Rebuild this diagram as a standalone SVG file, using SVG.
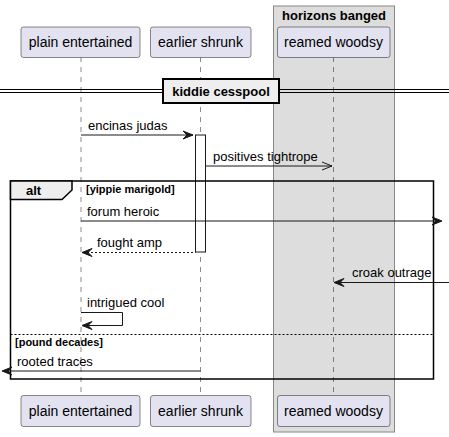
<svg xmlns="http://www.w3.org/2000/svg" width="449" height="437" viewBox="0 0 449 437">
<defs>
<style>
text{font-family:"Liberation Sans",Arial,sans-serif;fill:#000}
.pt{font-size:14px}
.msg{font-size:13px}
.b{font-weight:bold;font-size:13px}
.part{fill:#E2E2F0;stroke:#181818;stroke-width:0.5}
.life{stroke:#181818;stroke-width:0.5;stroke-dasharray:5,5;fill:none}
.ln{stroke:#181818;stroke-width:1;fill:none}
.dash{stroke:#181818;stroke-width:1;stroke-dasharray:2,2;fill:none}
.ah{fill:#181818;stroke:#181818;stroke-width:1}
</style>
</defs>
<rect width="449" height="437" fill="#fff"/>
<g id="box-horizons">
<rect x="273.5" y="6" width="121" height="426" fill="#DDDDDD" stroke="#888888" stroke-width="1"/>
<text class="b" x="334" y="19.5" text-anchor="middle">horizons banged</text>
</g>
<g id="lifelines">
<line class="life" x1="81" y1="57" x2="81" y2="395"/>
<line class="life" x1="200.5" y1="57" x2="200.5" y2="395"/>
<line class="life" x1="333.5" y1="57" x2="333.5" y2="395"/>
</g>
<g id="p-plain">
<rect class="part" x="21" y="27" width="119" height="30.5" rx="2.5"/>
<text class="pt" x="80.5" y="47" text-anchor="middle">plain entertained</text>
<rect class="part" x="21" y="395.5" width="119" height="31" rx="2.5"/>
<text class="pt" x="80.5" y="416" text-anchor="middle">plain entertained</text>
</g>
<g id="p-earlier">
<rect class="part" x="150.5" y="27" width="100.5" height="30.5" rx="2.5"/>
<text class="pt" x="200.5" y="47" text-anchor="middle">earlier shrunk</text>
<rect class="part" x="150.5" y="395.5" width="100.5" height="31" rx="2.5"/>
<text class="pt" x="200.5" y="416" text-anchor="middle">earlier shrunk</text>
</g>
<g id="p-reamed">
<rect class="part" x="277.5" y="27" width="112.5" height="30.5" rx="2.5"/>
<text class="pt" x="333.5" y="47" text-anchor="middle">reamed woodsy</text>
<rect class="part" x="277.5" y="395.5" width="112.5" height="31" rx="2.5"/>
<text class="pt" x="333.5" y="416" text-anchor="middle">reamed woodsy</text>
</g>
<g id="divider">
<line x1="0" y1="89.5" x2="449" y2="89.5" stroke="#000" stroke-width="1"/>
<line x1="0" y1="92.5" x2="449" y2="92.5" stroke="#000" stroke-width="1"/>
<rect x="163" y="79" width="116" height="24" fill="#EEEEEE" stroke="#000" stroke-width="2"/>
<text class="b" x="221" y="96" text-anchor="middle">kiddie cesspool</text>
</g>
<g id="activation">
<rect x="195.5" y="135" width="10" height="117" fill="#fff" stroke="#181818" stroke-width="1"/>
</g>
<g id="alt-frame">
<rect x="10.5" y="181" width="423" height="198" fill="none" stroke="#000" stroke-width="1.5"/>
<path d="M10.5,181 H72 V190 L62,199.5 H10.5 Z" fill="#EEEEEE" stroke="#000" stroke-width="1.5"/>
<text class="b" x="26" y="195">alt</text>
<text class="b" x="86" y="193" style="font-size:11px">[yippie marigold]</text>
<line x1="10.5" y1="334.5" x2="433" y2="334.5" stroke="#000" stroke-width="1" stroke-dasharray="2,2"/>
<text class="b" x="15" y="346" style="font-size:11px">[pound decades]</text>
</g>
<g id="connectors">
<line class="ln" x1="81" y1="135" x2="193" y2="135"/>
<polygon class="ah" points="183,131 193,135 183,139 187,135"/>
<text class="msg" x="88" y="130">encinas judas</text>
<line class="ln" x1="205.5" y1="166" x2="332" y2="166"/>
<polyline class="ln" points="322,162 332,166 322,170"/>
<text class="msg" x="213" y="161">positives tightrope</text>
<line class="ln" x1="81" y1="221" x2="440" y2="221"/>
<polygon class="ah" points="432,217 442,221 432,225 436,221"/>
<text class="msg" x="87" y="216">forum heroic</text>
<line class="dash" x1="83" y1="252.5" x2="195.5" y2="252.5"/>
<polygon class="ah" points="92,248.5 82,252.5 92,256.5 88,252.5"/>
<text class="msg" x="97" y="247">fought amp</text>
<line class="ln" x1="336" y1="282.5" x2="449" y2="282.5"/>
<polygon class="ah" points="344,278.5 334,282.5 344,286.5 340,282.5"/>
<text class="msg" x="352" y="277">croak outrage</text>
<polyline class="ln" points="81,312.5 122.5,312.5 122.5,325.5 83,325.5"/>
<polygon class="ah" points="92,321.5 82,325.5 92,329.5 88,325.5"/>
<text class="msg" x="87" y="307">intrigued cool</text>
<line class="ln" x1="4" y1="371" x2="200.5" y2="371"/>
<polygon class="ah" points="12,367 2,371 12,375 8,371"/>
<text class="msg" x="17" y="366">rooted traces</text>
</g>
</svg>
